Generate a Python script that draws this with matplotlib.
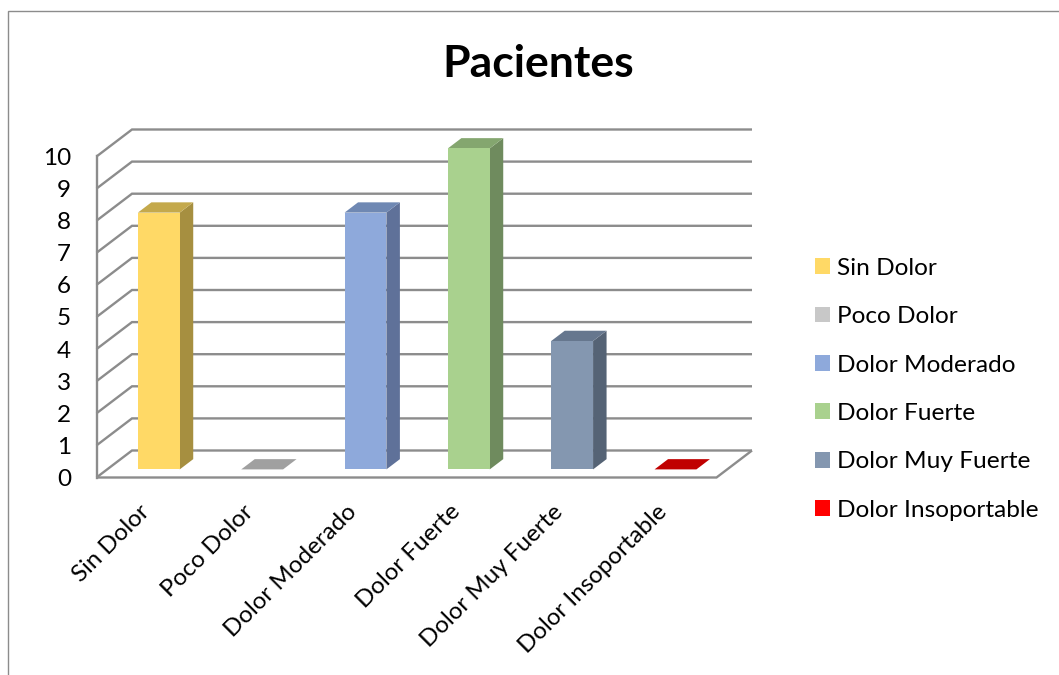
import matplotlib
matplotlib.use("Agg")
import matplotlib.pyplot as plt
from matplotlib.lines import Line2D
from matplotlib.patches import Patch
from matplotlib.transforms import ScaledTranslation

plt.rcParams['font.family'] = ['Lato', 'DejaVu Sans']

categories = ["Sin Dolor", "Poco Dolor", "Dolor Moderado", "Dolor Fuerte",
              "Dolor Muy Fuerte", "Dolor Insoportable"]
pacientes = [8, 0, 8, 10, 4, 0]
y_ticks = list(range(0, 11))

front_colors = ["#FFD966", "#C8C8C8", "#8EA9DB", "#A9D18E", "#8497B0", "#FF0000"]
side_colors = ["#A68F40", "#808080", "#5F7199", "#6F8B5E", "#556375", "#A00000"]
top_colors = ["#C4A94C", "#A0A0A0", "#6F88B3", "#84A66F", "#66778E", "#C00000"]

W, H = 1059, 675
fig = plt.figure(figsize=(W / 100, H / 100), dpi=100)

# Front plane of the box, in pixels measured from the top-left corner
left, right, base, top = 96.5, 716.5, 477.5, 156.5
ax = fig.add_axes([left / W, 1 - base / H, (right - left) / W, (base - top) / H])
ax.set_xlim(0, len(categories))
ax.set_ylim(0, 10)
ax.patch.set_alpha(0)
for spine in ax.spines.values():
    spine.set_visible(False)

# Oblique projection: one unit of depth, in data units
unit_x = (right - left) / len(categories)
unit_y = (base - top) / 10
depth_x = 35.5 / unit_x
depth_y = 27 / unit_y


def project(x, y, d):
    return x + d * depth_x, y + d * depth_y


grid_color = "#8C8C8C"
grid_lw = 1.7

# Side wall and back wall grid lines
for v in y_ticks:
    xs, ys = zip(project(0, v, 0), project(0, v, 1), project(len(categories), v, 1))
    ax.plot(xs, ys, color=grid_color, lw=grid_lw, clip_on=False, zorder=1,
            solid_joinstyle="miter", solid_capstyle="butt")

# Left edge and floor outline
ax.plot([0, 0], [0, 10], color=grid_color, lw=grid_lw, clip_on=False, zorder=1)
xs, ys = zip((0, 0), (len(categories), 0), project(len(categories), 0, 1))
ax.plot(xs, ys, color=grid_color, lw=grid_lw, clip_on=False, zorder=1,
        solid_joinstyle="miter", solid_capstyle="butt")

# Bars
bar_w = 0.405
d0, d1 = 0.3, 0.68
for i, v in enumerate(pacientes):
    x0 = i + 0.5 - bar_w / 2
    x1 = i + 0.5 + bar_w / 2
    # right side
    xs, ys = zip(project(x1, 0, d0), project(x1, 0, d1), project(x1, v, d1), project(x1, v, d0))
    ax.fill(xs, ys, color=side_colors[i], lw=0, clip_on=False, zorder=3)
    # top
    xs, ys = zip(project(x0, v, d0), project(x1, v, d0), project(x1, v, d1), project(x0, v, d1))
    ax.fill(xs, ys, color=top_colors[i], lw=0, clip_on=False, zorder=4)
    # front
    xs, ys = zip(project(x0, 0, d0), project(x1, 0, d0), project(x1, v, d0), project(x0, v, d0))
    ax.fill(xs, ys, color=front_colors[i], lw=0, clip_on=False, zorder=5)

# Axes labels
ax.set_yticks(y_ticks)
ax.set_yticklabels([str(v) for v in y_ticks], fontsize=17.5, color="black")
ax.tick_params(axis="y", length=0, pad=18.4)
ax.set_xticks([i + 0.5 for i in range(len(categories))])
ax.set_xticklabels(categories, rotation=45, ha="right", va="top",
                   rotation_mode="anchor", fontsize=17.4, color="black")
ax.tick_params(axis="x", length=0, pad=17)
label_shift = ScaledTranslation(-9 / 100, 0, fig.dpi_scale_trans)
for label in ax.get_xticklabels():
    label.set_transform(label.get_transform() + label_shift)

# Title
fig.text(538 / W, 1 - 64 / H, "Pacientes", fontsize=32, fontweight="bold",
         ha="center", va="center", color="black")

# Legend
handles = [Patch(facecolor=c, edgecolor="none", label=n)
           for c, n in zip(front_colors, categories)]
fig.legend(handles=handles, loc="upper left", bbox_to_anchor=(805.2 / W, 1 - 248 / H),
           frameon=False, fontsize=17.6, handlelength=0.61, handleheight=0.61,
           handletextpad=0.29, labelspacing=1.12, borderaxespad=0, borderpad=0.4)

# Chart area border, open at the right and at the bottom
fig.add_artist(Line2D([8 / W, 8 / W, 1], [0, 1 - 11 / H, 1 - 11 / H],
                      color="#8C8C8C", lw=1.0, solid_joinstyle="miter"))

fig.savefig("out.png", dpi=100, facecolor="white")
